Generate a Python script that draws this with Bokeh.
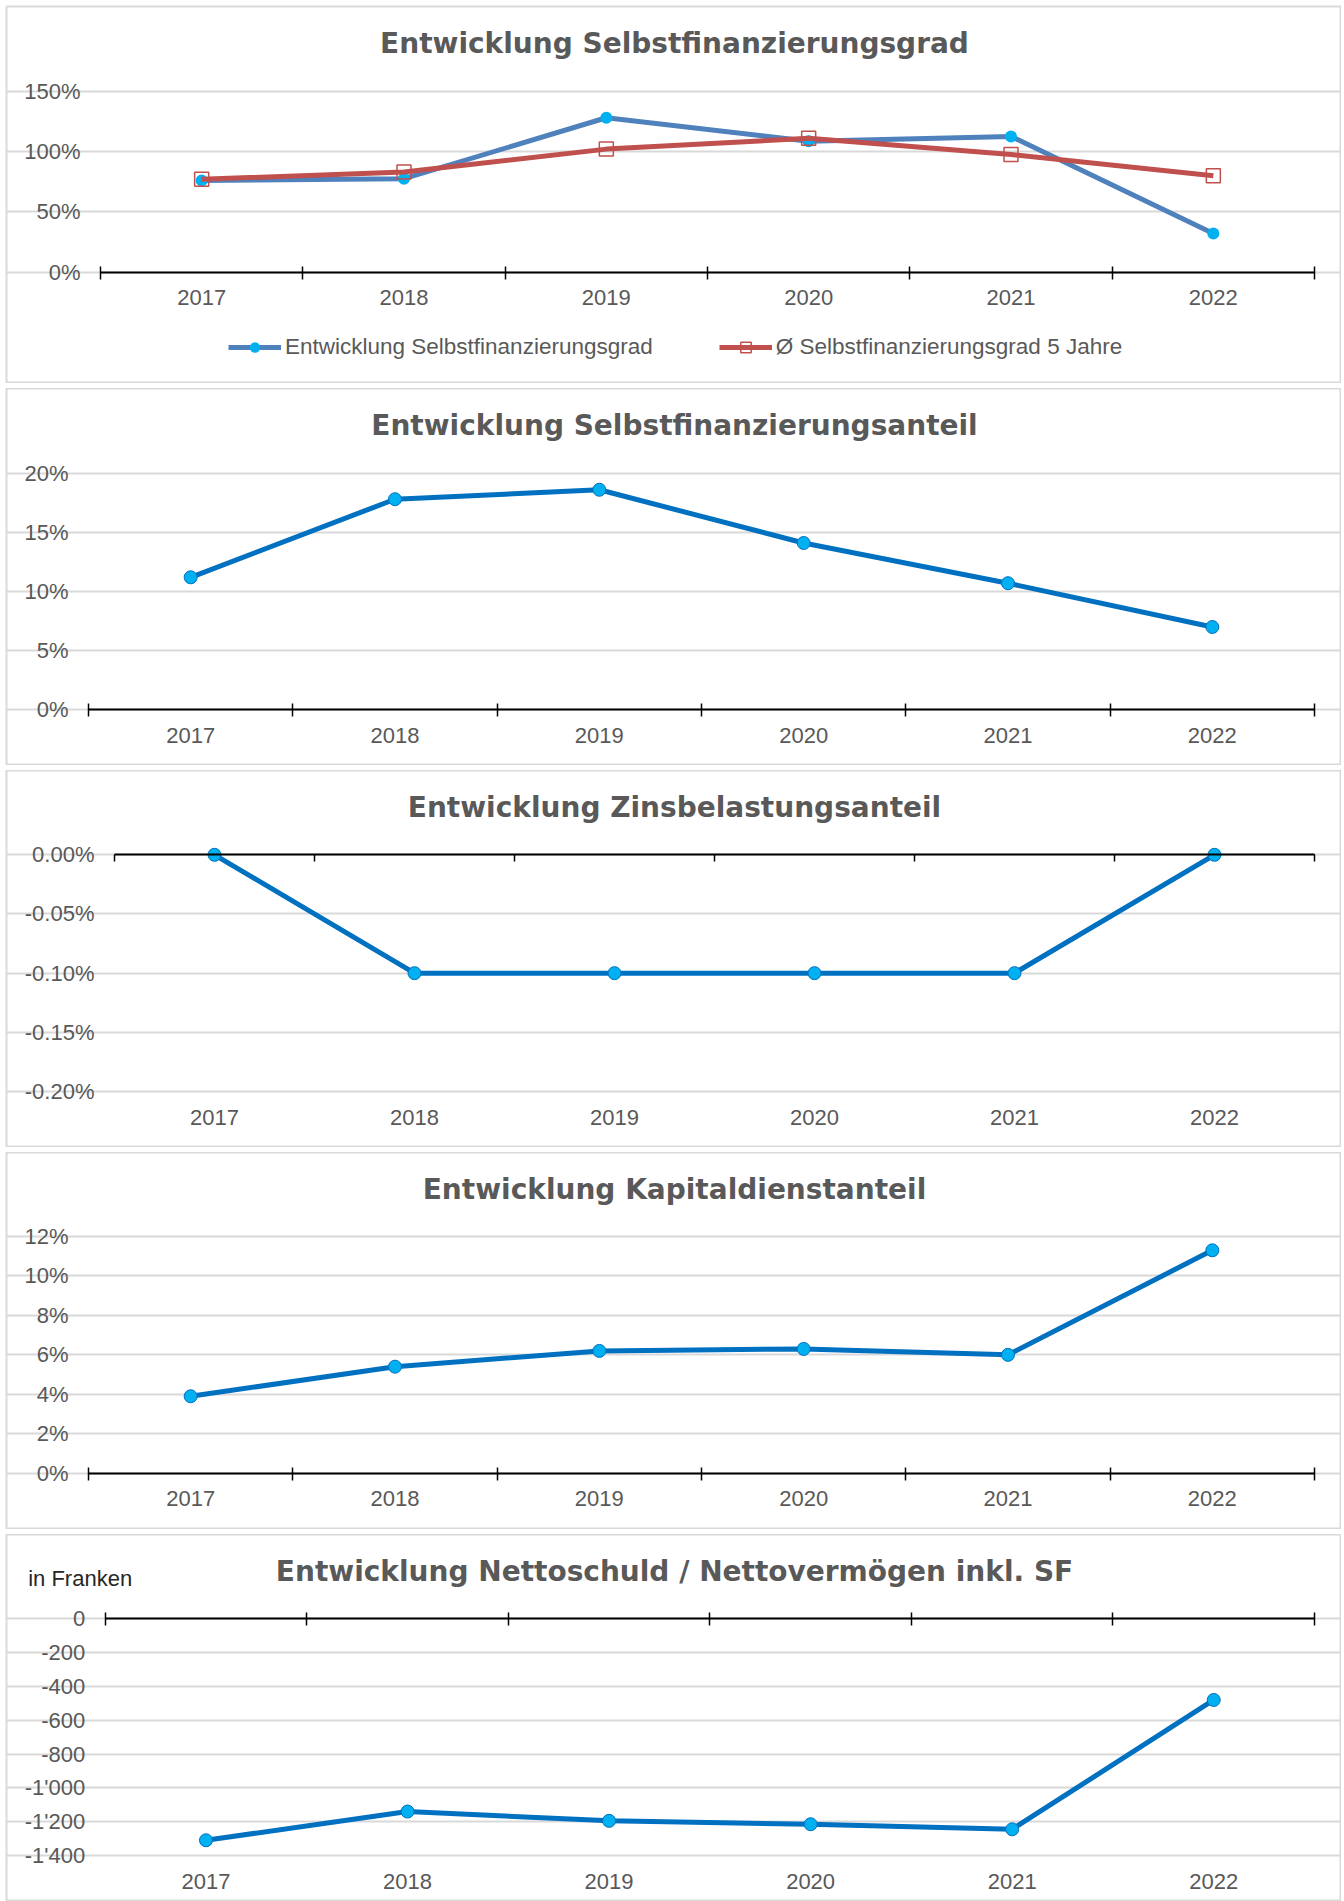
from bokeh.plotting import figure
from bokeh.layouts import column
from bokeh.models import Range1d, LinearAxis, FixedTicker, Label, Legend, LegendItem
from bokeh.embed import file_html
from bokeh.resources import INLINE

# ---------------- data ----------------
years = ["2017", "2018", "2019", "2020", "2021", "2022"]

sf_grad = [76.0, 77.5, 128.0, 108.5, 112.5, 32.0]
sf_grad_avg5 = [77.0, 83.0, 102.0, 111.0, 97.5, 80.0]
sf_anteil = [11.2, 17.8, 18.6, 14.1, 10.7, 7.0]
zins_anteil = [0.0, -0.1, -0.1, -0.1, -0.1, 0.0]
kd_anteil = [3.9, 5.4, 6.2, 6.3, 6.0, 11.3]
nettoschuld = [-1310, -1140, -1195, -1215, -1245, -480]

ticks_grad = [0, 50, 100, 150]
labels_grad = ["0%", "50%", "100%", "150%"]
ticks_sfa = [0, 5, 10, 15, 20]
labels_sfa = ["0%", "5%", "10%", "15%", "20%"]
ticks_zba = [-0.2, -0.15, -0.1, -0.05, 0.0]
labels_zba = ["-0.20%", "-0.15%", "-0.10%", "-0.05%", "0.00%"]
ticks_kda = [0, 2, 4, 6, 8, 10, 12]
labels_kda = ["0%", "2%", "4%", "6%", "8%", "10%", "12%"]
ticks_ns = [-1400, -1200, -1000, -800, -600, -400, -200, 0]
labels_ns = ["-1'400", "-1'200", "-1'000", "-800", "-600", "-400", "-200", "0"]

titles = ["Entwicklung Selbstfinanzierungsgrad",
          "Entwicklung Selbstfinanzierungsanteil",
          "Entwicklung Zinsbelastungsanteil",
          "Entwicklung Kapitaldienstanteil",
          "Entwicklung Nettoschuld / Nettovermögen inkl. SF"]
legend_labels = ["Entwicklung Selbstfinanzierungsgrad", "Ø Selbstfinanzierungsgrad 5 Jahre"]
unit_label = "in Franken"

# ---------------- style ----------------
FONT = "Liberation Sans"
TFONT = "DejaVu Sans"
GRAY = "#595959"
GRID = "#D9D9D9"
BLUE = "#0070C0"
CYAN = "#00B0F0"
WP = 1335          # panel width
RIGHT = 1308.0     # px of the last category boundary inside a panel
N = len(years)
xs = [i + 0.5 for i in range(N)]
bounds = list(range(N + 1))


def panel(title, yt, yl, y0, y1, hp, left, top, bottom, mbt=0, tick_in=6, tick_out=7):
    sx = (RIGHT - left) / N
    x_start = -left / sx
    x_end = N + (WP - RIGHT) / sx
    ppu = (bottom - top) / (y1 - y0)
    y_end = y1 + top / ppu
    y_start = y0 - (hp - bottom) / ppu
    p = figure(width=WP + 6, height=hp + mbt,
               x_range=Range1d(x_start, x_end), y_range=Range1d(y_start, y_end),
               output_backend="svg", toolbar_location=None,
               x_axis_location=None, y_axis_location=None,
               min_border_left=6, min_border_right=0,
               min_border_top=mbt, min_border_bottom=0)
    p.outline_line_color = GRID
    p.outline_line_width = 2
    p.background_fill_color = "white"
    p.border_fill_color = "white"
    p.xgrid.visible = False
    p.ygrid.ticker = FixedTicker(ticks=yt)
    p.ygrid.bounds = (0, N)
    p.ygrid.grid_line_color = GRID
    p.ygrid.grid_line_width = 2

    yax = LinearAxis(fixed_location=0, ticker=FixedTicker(ticks=yt),
                     major_label_overrides=dict(zip(yt, yl)),
                     axis_line_color=None, major_tick_line_color=None, minor_tick_line_color=None,
                     major_tick_in=0, major_tick_out=0,
                     major_label_standoff=20, major_label_text_font=FONT,
                     major_label_text_font_size="22px", major_label_text_color=GRAY)
    p.add_layout(yax, "left")

    xlab = LinearAxis(fixed_location=y0, ticker=FixedTicker(ticks=xs),
                      major_label_overrides=dict(zip(xs, years)),
                      axis_line_color=None, major_tick_line_color=None, minor_tick_line_color=None,
                      major_tick_in=0, major_tick_out=0,
                      major_label_standoff=18, major_label_text_font=FONT,
                      major_label_text_font_size="22px", major_label_text_color=GRAY)
    p.add_layout(xlab, "below")

    xline = LinearAxis(fixed_location=0, bounds=(0, N),
                       ticker=FixedTicker(ticks=[], minor_ticks=bounds),
                       axis_line_color="black", axis_line_width=2,
                       major_tick_line_color=None,
                       minor_tick_line_color="black", minor_tick_line_width=1.5,
                       minor_tick_in=tick_in, minor_tick_out=tick_out)
    p.add_layout(xline, "below")

    p.add_layout(Label(x=(668 - left) / sx, y=y_end - 37 / ppu, text=title,
                       text_align="center", text_baseline="alphabetic",
                       text_font=TFONT, text_font_style="bold", text_font_size="28px",
                       text_color=GRAY))
    geo = dict(sx=sx, ppu=ppu, left=left, y_end=y_end)
    return p, geo


def blue_series(p, vals):
    p.line(xs, vals, line_color=BLUE, line_width=5)
    p.scatter(xs, vals, size=13, fill_color=CYAN, line_color=BLUE, line_width=1)


# Panel 1
p1, g1 = panel(titles[0], ticks_grad, labels_grad, 0, 150, 377, 94, 84.7, 265.7, mbt=6)
l1 = p1.line(xs, sf_grad, line_color="#4F81BD", line_width=5)
s1 = p1.scatter(xs, sf_grad, size=12, fill_color=CYAN, line_color=CYAN, line_width=0)
l2 = p1.line(xs, sf_grad_avg5, line_color="#C0504D", line_width=5)
s2 = p1.scatter(xs, sf_grad_avg5, marker="square", size=14, fill_alpha=0,
                line_color="#C0504D", line_width=1.5)
legend = Legend(items=[LegendItem(label=legend_labels[0], renderers=[l1, s1]),
                       LegendItem(label=legend_labels[1], renderers=[l2, s2])],
                orientation="horizontal", location=(222, 23),
                glyph_width=53, glyph_height=26, label_standoff=4, spacing=66,
                padding=0, margin=0, border_line_color=None, background_fill_alpha=0,
                label_text_font=FONT, label_text_font_size="22.5px", label_text_color=GRAY)
p1.add_layout(legend, "center")

# Panel 2
p2, _ = panel(titles[1], ticks_sfa, labels_sfa, 0, 20, 377, 82, 84.7, 321.3)
blue_series(p2, sf_anteil)

# Panel 3
p3, _ = panel(titles[2], ticks_zba, labels_zba, -0.2, 0.0, 377, 108, 84.3, 321, tick_in=0)
blue_series(p3, zins_anteil)

# Panel 4
p4, _ = panel(titles[3], ticks_kda, labels_kda, 0, 12, 377, 82, 84.0, 320.7)
blue_series(p4, kd_anteil)

# Panel 5
p5, g5 = panel(titles[4], ticks_ns, labels_ns, -1400, 0, 367, 98.7, 84.3, 321)
blue_series(p5, nettoschuld)
p5.add_layout(Label(x=(21.7 - g5["left"]) / g5["sx"], y=g5["y_end"] - 44 / g5["ppu"],
                    text=unit_label, text_align="left", text_baseline="alphabetic",
                    text_font=FONT, text_font_size="22px", text_color="#262626"))

layout = column(p1, p2, p3, p4, p5, spacing=5)
open("out.html", "w").write(file_html(layout, INLINE))
